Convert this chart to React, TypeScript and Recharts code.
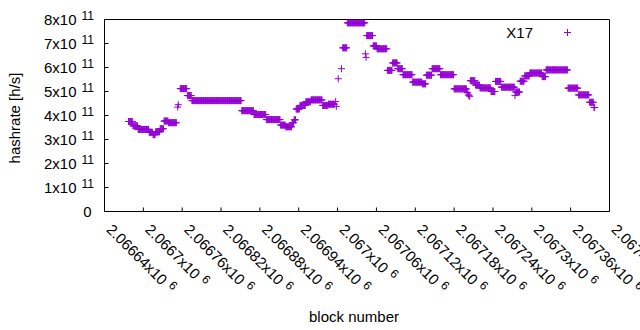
import React from 'react';
import { ScatterChart, Scatter, XAxis, YAxis, Legend } from 'recharts';

const FONT = '"Liberation Sans", Arial, sans-serif';
const COLOR = '#9400d3';

// Runs of consecutive blocks sharing the same hashrate estimate
const runStartBlock = [
  2066677, 2066684, 2066692, 2066709, 2066715, 2066719, 2066726, 2066732, 2066739, 2066753,
  2066754, 2066757, 2066768, 2066775, 2066852, 2066871, 2066890, 2066912, 2066920, 2066930,
  2066933, 2066936, 2066942, 2066951, 2066959, 2066977, 2066986, 2066997, 2066998, 2067001,
  2067006, 2067008, 2067015, 2067043, 2067044, 2067045, 2067055, 2067061, 2067077, 2067085,
  2067093, 2067101, 2067116, 2067131, 2067137, 2067146, 2067159, 2067180, 2067200, 2067202,
  2067204, 2067205, 2067213, 2067220, 2067237, 2067244, 2067253, 2067274, 2067275, 2067282,
  2067289, 2067297, 2067316, 2067322, 2067356, 2067372, 2067389, 2067396,
];
const runEndBlock = [
  2066683, 2066691, 2066708, 2066714, 2066718, 2066725, 2066731, 2066738, 2066751, 2066753,
  2066754, 2066767, 2066774, 2066851, 2066870, 2066889, 2066911, 2066919, 2066929, 2066932,
  2066935, 2066941, 2066950, 2066958, 2066976, 2066985, 2066995, 2066997, 2066998, 2067001,
  2067006, 2067014, 2067042, 2067043, 2067044, 2067054, 2067060, 2067076, 2067084, 2067092,
  2067100, 2067115, 2067130, 2067136, 2067145, 2067158, 2067179, 2067199, 2067201, 2067203,
  2067204, 2067212, 2067219, 2067236, 2067243, 2067252, 2067273, 2067274, 2067281, 2067288,
  2067296, 2067315, 2067321, 2067355, 2067371, 2067388, 2067395, 2067397,
];
// hashrate in units of 1e11 h/s
const runHashrate = [
  3.75, 3.57, 3.42, 3.30, 3.20, 3.32, 3.45, 3.77, 3.70, 4.35,
  4.45, 5.12, 4.83, 4.62, 4.20, 4.04, 3.83, 3.60, 3.53, 3.70,
  3.82, 4.27, 4.42, 4.57, 4.65, 4.42, 4.47, 4.58, 4.38, 5.53,
  5.95, 6.82, 7.86, 6.57, 6.42, 7.33, 6.90, 6.78, 5.88, 6.19,
  5.95, 5.70, 5.39, 5.32, 5.68, 5.95, 5.70, 5.11, 4.95, 4.85,
  4.80, 5.45, 5.27, 5.15, 5.00, 5.42, 5.18, 4.83, 4.98, 5.43,
  5.65, 5.77, 5.62, 5.90, 5.14, 4.86, 4.55, 4.33,
];

const seriesName = 'X17';

const xTickValues = [
  2066640, 2066700, 2066760, 2066820, 2066880, 2066940, 2067000,
  2067060, 2067120, 2067180, 2067240, 2067300, 2067360, 2067420,
];
const xTickLabels = [
  '2.06664', '2.0667', '2.06676', '2.06682', '2.06688', '2.06694', '2.067',
  '2.06706', '2.06712', '2.06718', '2.06724', '2.0673', '2.06736', '2.06742',
];
const xTickExponent = '6';

const yTickValues = [0, 1e11, 2e11, 3e11, 4e11, 5e11, 6e11, 7e11, 8e11];
const yTickLabels = ['0', '1', '2', '3', '4', '5', '6', '7', '8'];
const yTickExponent = '11';

const xDomain = [2066640, 2067420];
const yDomain = [0, 8e11];

const points: { block: number; hashrate: number }[] = [];
runStartBlock.forEach((start, i) => {
  for (let b = start; b <= runEndBlock[i]; b++) {
    points.push({ block: b, hashrate: runHashrate[i] * 1e11 });
  }
});

const PLOT_BOTTOM = 211.5;
const Y_LABEL_RIGHT = 94;

const PlusShape = (props: any) => {
  const { cx, cy } = props;
  if (cx == null || cy == null || isNaN(cx) || isNaN(cy)) return null;
  return (
    <path
      d={`M${cx - 3.5},${cy}H${cx + 3.5}M${cx},${cy - 3.5}V${cy + 3.5}`}
      stroke={COLOR}
      strokeWidth={1}
      fill="none"
    />
  );
};

const XTick = (props: any) => {
  const { x, payload } = props;
  const i = xTickValues.indexOf(payload.value);
  if (i < 0) return null;
  const ox = x + 1;
  const oy = PLOT_BOTTOM + 19;
  return (
    <text
      transform={`translate(${ox},${oy}) rotate(45)`}
      fontFamily={FONT}
      fontSize={15}
      fill="#000"
    >
      <tspan>{xTickLabels[i]}x10</tspan>
      <tspan dx={5} dy={-5} fontSize={12}>{xTickExponent}</tspan>
    </text>
  );
};

const YTick = (props: any) => {
  const { y, payload } = props;
  const i = yTickValues.indexOf(payload.value);
  if (i < 0) return null;
  if (yTickLabels[i] === '0') {
    return (
      <text x={91.5} y={y + 5} textAnchor="end" fontFamily={FONT} fontSize={15} fill="#000">
        0
      </text>
    );
  }
  return (
    <text x={Y_LABEL_RIGHT} y={y + 5} textAnchor="end" fontFamily={FONT} fontSize={15} fill="#000">
      <tspan>{yTickLabels[i]}x10</tspan>
      <tspan dx={5} dy={-5} fontSize={12}>{yTickExponent}</tspan>
    </text>
  );
};

const YLabel = () => (
  <text
    x={20}
    y={118}
    transform="rotate(-90, 20, 118)"
    textAnchor="middle"
    fontFamily={FONT}
    fontSize={15}
    fill="#000"
  >
    hashrate [h/s]
  </text>
);

const XLabel = () => (
  <text x={354} y={321.5} textAnchor="middle" fontFamily={FONT} fontSize={15} fill="#000">
    block number
  </text>
);

const LegendContent = () => (
  <svg
    width={640}
    height={60}
    style={{ position: 'absolute', left: 0, top: 0, overflow: 'visible', pointerEvents: 'none' }}
  >
    <text x={533} y={37.5} textAnchor="end" fontFamily={FONT} fontSize={15} fill="#000">
      {seriesName}
    </text>
    <PlusShape cx={567.5} cy={32.5} />
  </svg>
);

export default function App() {
  return (
    <div style={{ position: 'absolute', left: 0, top: 0, width: 640, height: 330, background: '#fff' }}>
      <ScatterChart
        width={640}
        height={330}
        margin={{ top: 9.5, right: 20.5, bottom: 88.5, left: 44.5 }}
      >
        <XAxis
          type="number"
          dataKey="block"
          domain={xDomain}
          ticks={xTickValues}
          allowDataOverflow
          height={30}
          tickSize={-4}
          tickMargin={0}
          tick={<XTick />}
          axisLine={{ stroke: '#000', strokeWidth: 1 }}
          tickLine={{ stroke: '#000', strokeWidth: 1 }}
          label={XLabel}
          interval={0}
        />
        <XAxis
          xAxisId="top"
          orientation="top"
          type="number"
          domain={xDomain}
          ticks={xTickValues}
          allowDataOverflow
          height={10}
          tickSize={-4}
          tick={false}
          axisLine={{ stroke: '#000', strokeWidth: 1 }}
          tickLine={{ stroke: '#000', strokeWidth: 1 }}
          interval={0}
        />
        <YAxis
          type="number"
          dataKey="hashrate"
          domain={yDomain}
          ticks={yTickValues}
          allowDataOverflow
          width={60}
          tickSize={-4}
          tickMargin={0}
          tick={<YTick />}
          axisLine={{ stroke: '#000', strokeWidth: 1 }}
          tickLine={{ stroke: '#000', strokeWidth: 1 }}
          label={YLabel}
          interval={0}
        />
        <YAxis
          yAxisId="right"
          orientation="right"
          type="number"
          domain={yDomain}
          ticks={yTickValues}
          allowDataOverflow
          width={10}
          tickSize={-4}
          tick={false}
          axisLine={{ stroke: '#000', strokeWidth: 1 }}
          tickLine={{ stroke: '#000', strokeWidth: 1 }}
          interval={0}
        />
        <Legend
          verticalAlign="top"
          align="right"
          wrapperStyle={{ position: 'absolute', left: 0, top: 0, width: 0, height: 0, margin: 0, padding: 0 }}
          content={LegendContent}
        />
        <Scatter
          name={seriesName}
          data={points}
          fill={COLOR}
          shape={PlusShape}
          isAnimationActive={false}
        />
      </ScatterChart>
    </div>
  );
}
